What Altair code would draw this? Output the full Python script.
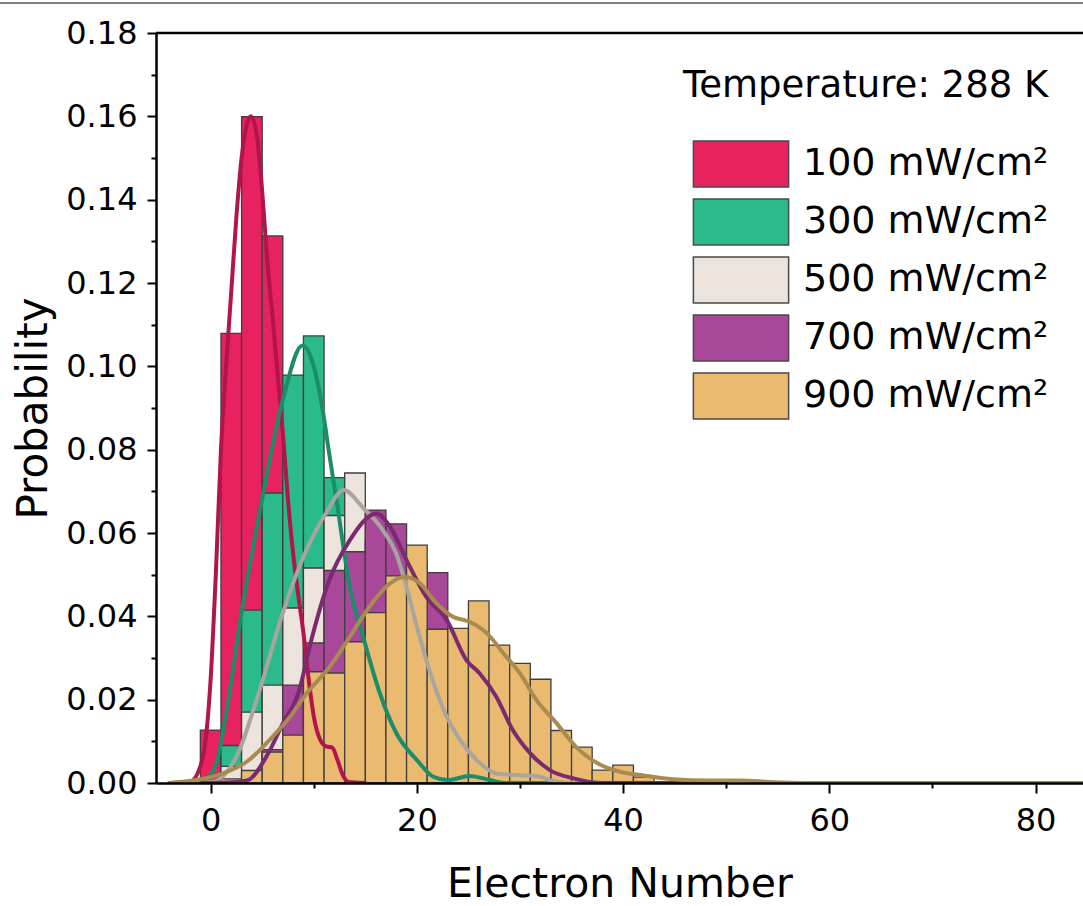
import altair as alt
import pandas as pd

# ---------------- data ----------------
series = ["100 mW/cm²", "300 mW/cm²", "500 mW/cm²", "700 mW/cm²", "900 mW/cm²"]
bar_colors = ["#E8225F", "#2BBA8B", "#EBE3DC", "#A9479B", "#E9BA6F"]
line_colors = ["#B0154C", "#1D8C69", "#A8A59F", "#7A2B70", "#A98B50"]

bin_width = 2
bin_centers = [0, 2, 4, 6, 8, 10, 12, 14, 16, 18, 20, 22, 24, 26, 28, 30, 32, 34, 36, 38, 40, 42, 44]

p100 = [0.0127, 0.1079, 0.1599, 0.1313, 0.0520, 0.0120, 0.0030, 0, 0, 0, 0, 0, 0, 0, 0, 0, 0, 0, 0, 0, 0, 0, 0]
p300 = [0.0, 0.0090, 0.0415, 0.0696, 0.0979, 0.1073, 0.0733, 0.0450, 0.0220, 0.0110, 0.0050, 0.0020, 0.0010, 0.0020, 0.0005, 0, 0, 0, 0, 0, 0, 0, 0]
p500 = [0.0, 0.0040, 0.0170, 0.0235, 0.0420, 0.0516, 0.0642, 0.0744, 0.0580, 0.0480, 0.0350, 0.0220, 0.0110, 0.0060, 0.0030, 0.0020, 0.0020, 0.0005, 0, 0, 0, 0, 0]
p700 = [0.0, 0.0005, 0.0020, 0.0080, 0.0235, 0.0336, 0.0510, 0.0555, 0.0655, 0.0622, 0.0530, 0.0505, 0.0320, 0.0270, 0.0190, 0.0120, 0.0060, 0.0030, 0.0010, 0.0005, 0, 0, 0]
p900 = [0.0, 0.0010, 0.0030, 0.0074, 0.0115, 0.0267, 0.0264, 0.0339, 0.0409, 0.0497, 0.0571, 0.0369, 0.0371, 0.0437, 0.0331, 0.0287, 0.0249, 0.0126, 0.0086, 0.0031, 0.0043, 0.0014, 0.0]

# smoothed density curves (x, probability)
c100_x = [-4.0, -2.0, -1.0, -0.5, 0.0, 0.5, 1.0, 1.5, 2.0, 2.5, 3.0, 3.5, 3.9, 4.5, 5.0, 5.5, 6.0, 6.5, 7.0, 7.5, 8.0, 8.5, 9.0, 9.5, 10.0, 10.6, 11.2, 11.8, 12.3, 12.8, 13.3, 15.0]
c100_y = [0.0, 0.0003, 0.0040, 0.0100, 0.0250, 0.0500, 0.0800, 0.1000, 0.1180, 0.1360, 0.1500, 0.1580, 0.1600, 0.1550, 0.1420, 0.1250, 0.1120, 0.0980, 0.0840, 0.0680, 0.0550, 0.0450, 0.0360, 0.0250, 0.0160, 0.0105, 0.0088, 0.0085, 0.0055, 0.0020, 0.0003, 0.0]
c300_x = [-3.0, -0.8, 0.55, 1.5, 3.0, 4.75, 7.0, 8.9, 10.0, 10.9, 11.5, 12.2, 13.5, 14.8, 16.4, 18.0, 20.0, 21.6, 23.0, 25.1, 27.1, 28.5, 40.0]
c300_y = [0.0, 0.0003, 0.0048, 0.0168, 0.0410, 0.0650, 0.0920, 0.1050, 0.1000, 0.0890, 0.0790, 0.0680, 0.0470, 0.0350, 0.0216, 0.0120, 0.0055, 0.0015, 0.0007, 0.0017, 0.0007, 0.0, 0.0]
c500_x = [-2.0, 0.2, 2.5, 4.75, 7.0, 9.0, 11.2, 12.9, 14.8, 16.7, 18.0, 19.0, 20.0, 21.3, 22.6, 24.2, 25.8, 27.7, 29.7, 31.6, 32.9, 35.0, 45.0]
c500_y = [0.0, 0.0003, 0.0063, 0.0223, 0.0408, 0.0543, 0.0648, 0.0703, 0.0660, 0.0607, 0.0550, 0.0470, 0.0375, 0.0264, 0.0175, 0.0103, 0.0055, 0.0023, 0.0019, 0.0017, 0.0007, 0.0, 0.0]
c700_x = [-1.0, 2.0, 3.6, 5.4, 7.0, 8.6, 9.6, 11.4, 13.5, 16.1, 17.4, 19.0, 20.9, 22.9, 24.8, 26.1, 27.7, 29.3, 31.0, 32.9, 35.2, 38.0, 50.0]
c700_y = [0.0, 0.0002, 0.0007, 0.0063, 0.0143, 0.0223, 0.0327, 0.0480, 0.0583, 0.0647, 0.0615, 0.0535, 0.0447, 0.0391, 0.0295, 0.0263, 0.0207, 0.0127, 0.0071, 0.0031, 0.0011, 0.0, 0.0]
c900_x = [-4.0, -1.4, 1.2, 3.5, 5.7, 7.7, 9.3, 11.55, 13.5, 15.4, 17.4, 18.8, 20.3, 21.9, 23.5, 25.1, 26.8, 28.4, 30.0, 31.6, 33.5, 35.5, 37.7, 39.7, 41.7, 44.9, 48.1, 51.4, 54.6, 60.0, 84.6]
c900_y = [0.0, 0.0007, 0.0023, 0.0051, 0.0103, 0.0159, 0.0215, 0.0279, 0.0351, 0.0423, 0.0479, 0.0495, 0.0479, 0.0431, 0.0399, 0.0387, 0.0359, 0.0311, 0.0263, 0.0199, 0.0145, 0.0085, 0.0045, 0.0027, 0.0019, 0.0009, 0.0006, 0.0006, 0.0002, 0.0, 0.0]

# ---------------- tables ----------------
hist_vals = [p100, p300, p500, p700, p900]
rows = []
for z, (name, vals) in enumerate(zip(series, hist_vals)):
    for c, p in zip(bin_centers, vals):
        rows.append({"series": name, "lo": c - bin_width / 2, "hi": c + bin_width / 2,
                     "p": p, "base": 0.0, "z": z})
bar_df = pd.DataFrame(rows)

curves = [(c100_x, c100_y), (c300_x, c300_y), (c500_x, c500_y), (c700_x, c700_y), (c900_x, c900_y)]
crow = []
for name, (xs, ys) in zip(series, curves):
    for xv, yv in zip(xs, ys):
        crow.append({"series": name, "x": xv, "y": yv})
curve_df = pd.DataFrame(crow)

FONT = "DejaVu Sans"
W, H = 927, 750

xscale = alt.Scale(domain=[-5.3, 84.6], nice=False, zero=False)
yscale = alt.Scale(domain=[0, 0.18], nice=False, zero=False)

xaxis = alt.Axis(
    values=[0, 10, 20, 30, 40, 50, 60, 70, 80],
    labelExpr="datum.value % 20 == 0 ? datum.label : ''",
    tickSize={"condition": {"test": "datum.value % 20 != 0", "value": 5}, "value": 10},
    grid=False, domainColor="black", domainWidth=2.5, tickColor="black", tickWidth=2,
    labelFont=FONT, labelFontSize=32, labelColor="black", labelPadding=12,
    titleFont=FONT, titleFontSize=41, titleFontWeight="normal", titleColor="black", titlePadding=28,
    zindex=1, labelFlush=False, labelOverlap=False,
)
yaxis = alt.Axis(
    values=[i / 100 for i in range(19)],
    labelExpr="round(datum.value*100) % 2 == 0 ? format(datum.value, '.2f') : ''",
    tickSize={"condition": {"test": "round(datum.value*100) % 2 != 0", "value": 5}, "value": 9},
    grid=False, domainColor="black", domainWidth=2.5, tickColor="black", tickWidth=2,
    labelFont=FONT, labelFontSize=32, labelColor="black", labelPadding=10,
    titleFont=FONT, titleFontSize=42, titleFontWeight="normal", titleColor="black", titlePadding=10,
    zindex=1, labelFlush=False, labelOverlap=False,
)

legend = alt.Legend(
    title="Temperature: 288 K", orient="none", legendX=527, legendY=35,
    symbolType="M-2.07,-1H2.07V1H-2.07Z", symbolSize=2116,
    symbolStrokeColor="#4a4a4a", symbolStrokeWidth=1.5, symbolOpacity=1,
    symbolOffset=34, labelOffset=38, rowPadding=6,
    labelFont=FONT, labelFontSize=38, labelColor="black", labelLimit=500,
    titleFont=FONT, titleFontSize=37, titleFontWeight="normal", titleColor="black",
    titlePadding=35, titleLimit=600,
)

bars = alt.Chart(bar_df).mark_bar(stroke="#3f3f3f", strokeWidth=1.3, opacity=1, clip=True).encode(
    x=alt.X("lo:Q", scale=xscale, axis=xaxis, title="Electron Number"),
    x2="hi:Q",
    y=alt.Y("p:Q", stack=None, scale=yscale, axis=yaxis, title="Probability"),
    y2="base:Q",
    fill=alt.Fill("series:N", scale=alt.Scale(domain=series, range=bar_colors), legend=legend),
    order=alt.Order("z:Q"),
)

lines = alt.Chart(curve_df).mark_line(strokeWidth=4, interpolate="monotone", clip=True, strokeCap="round").encode(
    x=alt.X("x:Q", scale=xscale),
    y=alt.Y("y:Q", scale=yscale),
    stroke=alt.Stroke("series:N", scale=alt.Scale(domain=series, range=line_colors), legend=None),
)

frame_df = pd.DataFrame({"k": [0]})
top_frame = alt.Chart(frame_df).mark_rule(color="black", strokeWidth=2.5).encode(
    x=alt.value(0), x2=alt.value(W), y=alt.value(0)
)
header_line = alt.Chart(frame_df).mark_rule(color="#555555", strokeWidth=1.5).encode(
    x=alt.value(-156), x2=alt.value(W), y=alt.value(-30)
)

chart = alt.layer(bars, lines, top_frame, header_line).resolve_scale(
    fill="independent", stroke="independent"
).properties(
    width=W, height=H,
    padding={"left": 156, "top": 33, "right": 0, "bottom": 123},
    autosize=alt.AutoSizeParams(type="none"),
    background="white",
).configure_view(strokeWidth=0)

chart.save("out.html", embed_options={"renderer": "svg", "actions": False})
